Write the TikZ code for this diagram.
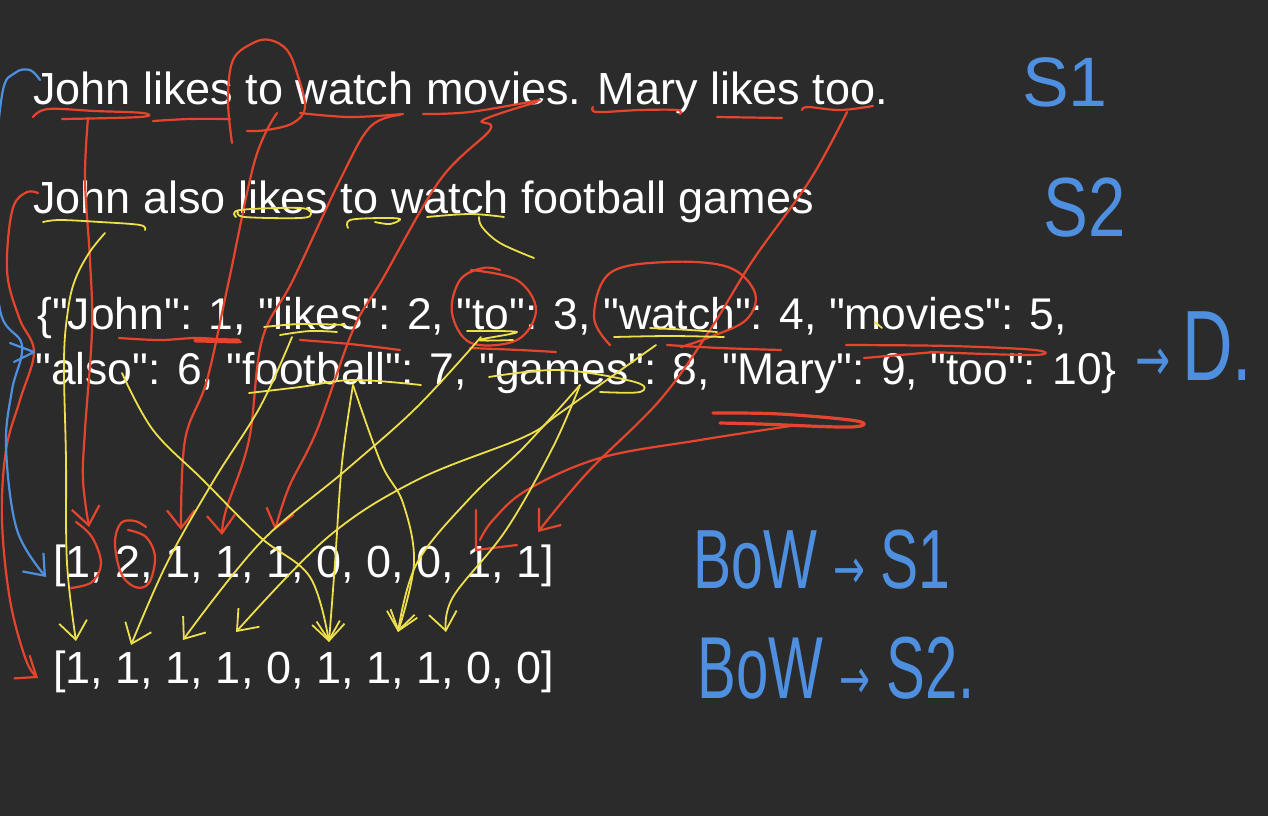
\documentclass[tikz,border=0pt]{standalone}
\usepackage{fontspec}
\setmainfont{Liberation Sans}[Ligatures=TeXOff]
\newfontfamily\arrowfont{DejaVu Sans}
\usetikzlibrary{arrows.meta}
\definecolor{boardbg}{HTML}{2B2B2B}
\definecolor{penred}{HTML}{E5452D}
\definecolor{penyellow}{HTML}{EDE04B}
\definecolor{penblue}{HTML}{4F8FE0}

\begin{document}
\begin{tikzpicture}[x=0.5pt,y=-0.5pt,
every node/.style={inner sep=0pt},
txt/.style={anchor=base west,text=white,font=\fontsize{22.5}{27}\selectfont},
dict/.style={txt,font=\fontsize{22.2}{27}\selectfont},
note/.style={text=penblue,anchor=center},
rpen/.style={draw=penred,line width=1.1pt,line cap=round,line join=round},
ypen/.style={draw=penyellow,line width=0.9pt,line cap=round,line join=round},
bpen/.style={draw=penblue,line width=1.1pt,line cap=round,line join=round},
tipv/.style={-{Straight Barb[length=9pt,width=14pt]}},
scrib/.style={smooth,tension=0.6}
]
\fill[boardbg] (0,0) rectangle (1268,816);
\useasboundingbox (0,0) rectangle (1268,816);

\node[txt] (s1) at (33,104) {John likes to watch movies. Mary likes too.};
\node[txt] (s2) at (33,213) {John also likes to watch football games};
\node[dict] (d1) at (37,329) {\{"John": 1, "likes": 2, "to": 3, "watch": 4, "movies": 5,};
\node[dict] (d2) at (35,384) {"also": 6, "football": 7, "games": 8, "Mary": 9, "too": 10\}};
\node[txt] (v1) at (53,577) {[1, 2, 1, 1, 1, 0, 0, 0, 1, 1]};
\node[txt] (v2) at (53,683) {[1, 1, 1, 1, 0, 1, 1, 1, 0, 0]};

\node[note,font=\fontsize{35}{35}\selectfont] (n1) at (1065,82) {S1};
\node[note,font=\fontsize{42}{42}\selectfont,xscale=0.8] (n2) at (1085,208) {S2};
\node[note,font=\fontsize{50}{50}\selectfont,xscale=0.7] (nd) at (1194,346) {{\arrowfont\fontsize{30}{30}\selectfont →}\,D.};
\node[note,font=\fontsize{42}{42}\selectfont,xscale=0.68] (b1) at (822,560) {BoW {\arrowfont\fontsize{28}{28}\selectfont →} S1};
\node[note,font=\fontsize{44}{44}\selectfont,xscale=0.66] (b2) at (836,668) {BoW {\arrowfont\fontsize{28}{28}\selectfont →} S2.};

\coordinate (jo1) at (88,118);
\coordinate (to1) at (277,113);
\coordinate (wa1) at (400,115);
\coordinate (mo1) at (537,102);
\coordinate (too1) at (847,112);
\coordinate (ma9) at (797,425);
\coordinate (jo2) at (105,233);
\coordinate (li2) at (292,337);
\coordinate (to3) at (481,337);
\coordinate (wa4) at (656,345);
\coordinate (al6) at (122,373);
\coordinate (fb7) at (353,385);
\coordinate (ga8) at (580,385);
\coordinate (bstart) at (40,80);
\coordinate (lstart) at (38,193);

\coordinate (r1) at (89,527);
\coordinate (r3) at (181,530);
\coordinate (r4) at (222,535);
\coordinate (r5) at (275,530);
\coordinate (r9) at (480,540);
\coordinate (r10) at (538,532);
\coordinate (y1) at (76,641);
\coordinate (y2) at (131,645);
\coordinate (y3) at (183,640);
\coordinate (y4) at (236,632);
\coordinate (y6) at (329,642);
\coordinate (y7) at (398,632);
\coordinate (y8) at (446,632);
\coordinate (bend) at (46,577);
\coordinate (lend) at (38,678);

\draw[rpen] plot[scrib] coordinates {(33,117) (48,109) (95,111) (143,113) (140,117) (62,119)};
\draw[rpen] plot[scrib] coordinates {(153,121) (190,119) (230,119)};
\draw[rpen] plot[scrib] coordinates {(232,143) (228,100) (233,60) (253,43) (270,40) (287,50) (297,73) (305,107) (293,123) (267,130) (247,131)};
\draw[rpen] plot[scrib] coordinates {(300,113) (350,117) (403,114)};
\draw[rpen] plot[scrib] coordinates {(423,114) (470,112) (540,100)};
\draw[rpen] plot[scrib] coordinates {(593,107) (597,112) (640,110) (677,110) (680,114)};
\draw[rpen] plot[scrib] coordinates {(717,117) (782,118)};
\draw[rpen] plot[scrib] coordinates {(802,110) (808,107) (840,110) (873,106)};

\draw[rpen] plot[scrib] coordinates {(119,338) (160,340) (200,338) (241,342)};
\draw[rpen,line width=2.5pt] (196,340) -- (238,341);
\draw[rpen] plot[scrib] coordinates {(300,340) (350,344) (400,350)};
\draw[rpen] plot[scrib] coordinates {(471,270) (517,280) (536,310) (517,340) (471,343) (452,313) (460,280) (483,268) (500,270)};
\draw[rpen] plot[scrib] coordinates {(470,348) (520,350) (556,352)};
\draw[rpen] plot[scrib] coordinates {(610,345) (594,317) (610,273) (667,262) (728,267) (755,293) (746,320) (710,337) (681,347)};
\draw[rpen] plot[scrib] coordinates {(667,345) (720,348) (781,350)};
\draw[rpen] plot[scrib] coordinates {(846,345) (950,346) (1035,350) (1033,355) (930,352)};
\draw[rpen] plot[scrib] coordinates {(864,358) (935,352)};
\draw[rpen,line width=1.6pt] plot[scrib] coordinates {(713,413) (780,414) (857,421) (850,427) (760,424) (720,423)};

\draw[rpen] plot[scrib] coordinates {(76,522) (92,537) (101,563) (92,582) (71,588)};
\draw[rpen] plot[scrib] coordinates {(146,527) (135,521) (121,523) (115,543) (121,573) (135,587) (149,583) (155,557) (146,537) (128,530)};
\draw[rpen] (476,510) -- (476,550) -- (517,545);

\draw[rpen,tipv] plot[scrib] coordinates {(jo1) (85,180) (90,260) (92,330) (85,430) (83,480) (r1)};
\draw[rpen,tipv] plot[scrib] coordinates {(to1) (255,160) (229,280) (207,380) (185,440) (r3)};
\draw[rpen,tipv] plot[scrib] coordinates {(wa1) (370,127) (340,180) (293,280) (262,340) (249,440) (226,510) (r4)};
\draw[rpen,tipv] plot[scrib] coordinates {(mo1) (483,120) (490,130) (440,180) (382,280) (353,330) (317,430) (289,487) (r5)};
\draw[rpen,tipv] plot[scrib] coordinates {(too1) (810,180) (753,260) (710,330) (660,400) (587,473) (r10)};
\draw[rpen] plot[scrib] coordinates {(ma9) (700,440) (600,458) (527,490) (493,520) (r9)};
\draw[rpen,tipv] plot[scrib] coordinates {(lstart) (27,192) (14,205) (8,240) (8,280) (20,320) (34,352) (20,400) (6,450) (2,520) (10,600) (26,660) (lend)};

\draw[ypen] plot[scrib] coordinates {(43,222) (60,220) (100,222) (140,225) (145,230)};
\draw[ypen] plot[scrib] coordinates {(236,217) (240,210) (300,208) (311,214) (300,218) (245,217) (238,212)};
\draw[ypen] plot[scrib] coordinates {(348,228) (350,220) (380,218) (400,219) (390,224) (375,222)};
\draw[ypen] plot[scrib] coordinates {(427,217) (470,214) (504,217)};
\draw[ypen] plot[scrib] coordinates {(479,217) (482,227) (500,243) (534,258)};

\draw[ypen] plot[scrib] coordinates {(264,327) (300,324) (345,325)};
\draw[ypen] plot[scrib] coordinates {(280,335) (310,331) (337,332)};
\draw[ypen] plot[scrib] coordinates {(467,331) (517,332) (479,340) (513,340)};
\draw[ypen] plot[scrib] coordinates {(614,337) (670,336) (724,337)};
\draw[ypen] plot[scrib] coordinates {(650,328) (690,330) (717,332)};
\draw[ypen] plot[scrib] coordinates {(249,393) (300,387) (353,380) (421,385)};
\draw[ypen] plot[scrib] coordinates {(489,377) (560,370) (635,382) (640,392) (600,392)};
\draw[ypen] (875,322) -- (882,328);

\draw[ypen,tipv] plot[scrib] coordinates {(jo2) (89,253) (75,280) (68,310) (64,360) (66,460) (67,563) (y1)};
\draw[ypen,tipv] plot[scrib] coordinates {(li2) (260,407) (214,480) (167,563) (y2)};
\draw[ypen,tipv] plot[scrib] coordinates {(to3) (417,407) (346,470) (260,543) (y3)};
\draw[ypen,tipv] plot[scrib] coordinates {(wa4) (560,413) (524,437) (417,480) (328,537) (y4)};
\draw[ypen,tipv] plot[scrib] coordinates {(al6) (153,430) (203,480) (260,537) (310,577) (y6)};
\draw[ypen,tipv] plot[scrib] coordinates {(fb7) (342,463) (335,563) (y6)};
\draw[ypen,tipv] plot[scrib] coordinates {(fb7) (381,463) (403,503) (414,563) (y7)};
\draw[ypen,tipv] plot[scrib] coordinates {(ga8) (524,447) (471,497) (417,563) (y7)};
\draw[ypen,tipv] plot[scrib] coordinates {(ga8) (553,447) (506,530) (453,597) (y8)};

\draw[bpen,tipv] plot[scrib] coordinates {(bstart) (30,70) (15,73) (2,95) (-6,200) (0,310) (22,345) (12,390) (6,447) (17,530) (bend)};
\draw[bpen] (10,343) -- (34,352) -- (14,362);
\end{tikzpicture}
\end{document}
